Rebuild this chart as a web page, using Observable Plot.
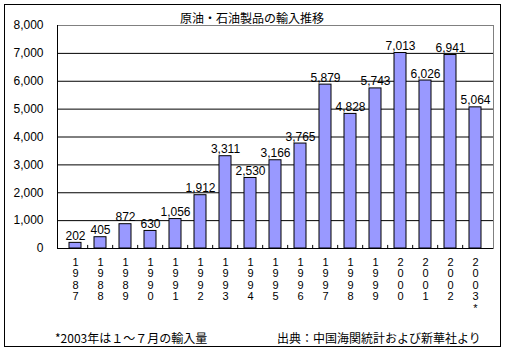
<!DOCTYPE html>
<html><head><meta charset="utf-8">
<script src="https://cdn.jsdelivr.net/npm/d3@7"></script>
<script src="https://cdn.jsdelivr.net/npm/@observablehq/plot@0.6"></script>
<style>
body{margin:0;background:#fff;}
#wrap{position:relative;width:506px;height:353px;font-family:"Liberation Sans","Noto Sans CJK JP",sans-serif;}
#border{position:absolute;left:4px;top:4px;width:495px;height:341px;border:1px solid #000;box-sizing:content-box;}
.t{position:absolute;font-family:"Noto Sans CJK JP",sans-serif;font-size:12px;line-height:14px;white-space:nowrap;color:#000;}
#chart{position:absolute;left:0;top:0;}
</style></head>
<body><div id="wrap"><div id="border"></div><div id="chart"></div>
<div class="t" id="title" style="left:180px;top:11px;">原油・石油製品の輸入推移</div>
<div class="t" style="left:55px;top:331px;">*2003年は１～７月の輸入量</div>
<div class="t" style="left:277px;top:331px;">出典：中国海関統計および新華社より</div>
</div>
<script>
const years = ["1987","1988","1989","1990","1991","1992","1993","1994","1995","1996","1997","1998","1999","2000","2001","2002","2003"];
const values = [202,405,872,630,1056,1912,3311,2530,3166,3765,5879,4828,5743,7013,6026,6941,5064];
const yTicks = [0,1000,2000,3000,4000,5000,6000,7000,8000];
const notes = {"2003": "*"};

const data = years.map((y,i)=>({year:y, value:values[i]}));
const W = 506, H = 353, mL = 57, mR = 13, mT = 25, mB = 105;
const bw = (W - mL - mR) / years.length;
const fmt = d3.format(",");

const plot = Plot.plot({
  width: W, height: H,
  marginLeft: mL, marginRight: mR, marginTop: mT, marginBottom: mB,
  style: {fontFamily: "Liberation Sans, sans-serif", fontSize: "12px", background: "transparent", overflow: "visible"},
  x: {type: "band", domain: years, paddingInner: 0.53, paddingOuter: 0.265, align: 0.5, axis: null},
  y: {domain: [0, 8000], axis: null},
  marks: [
    Plot.frame({stroke: "#808080"}),
    Plot.ruleY(yTicks.filter(d => d > 0 && d < 8000), {stroke: "#000", strokeWidth: 1}),
    Plot.barY(data, {x: "year", y: "value", fill: "#9999ff", stroke: "#000", strokeWidth: 1}),
    Plot.ruleY([0], {stroke: "#000"}),
    Plot.frame({anchor: "left", stroke: "#000"}),
    Plot.ruleX(years.slice(1), {x: d => d, y1: 0, y2: 110, dx: -bw / 2, stroke: "#000"}),
    Plot.text(data, {x: "year", y: "value", text: d => fmt(d.value), lineAnchor: "bottom", dy: -3, fill: "#000", fontSize: 12}),
    Plot.axisY({ticks: yTicks, tickSize: 0, tickPadding: 14, tickFormat: fmt, label: null, fontSize: 12}),
    Plot.text(years, {x: d => d, text: d => d.split("").join("\n") + (notes[d] ? "\n" + notes[d] : ""), frameAnchor: "bottom", lineAnchor: "top", dy: 9, lineHeight: 1.05, fontSize: 11, fill: "#000"})
  ]
});
document.getElementById("chart").appendChild(plot);
</script>
</body></html>
